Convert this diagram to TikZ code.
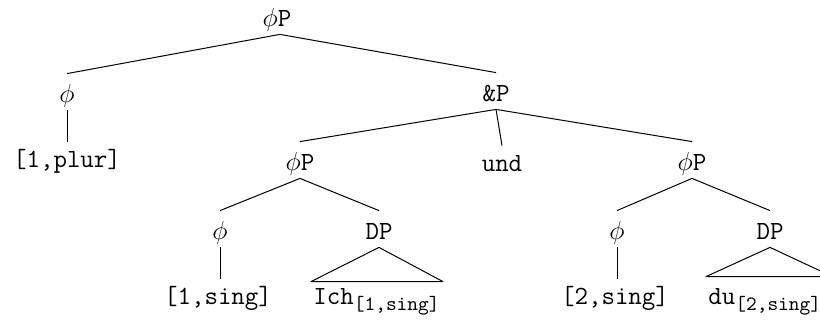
\documentclass[tikz,border=0pt]{standalone}
\usepackage{graphicx}
\usepackage{fontspec}
\newcommand{\ph}{\resizebox*{!}{11.6pt}{$\phi$}}
\newcommand{\subtt}[1]{\mbox{\fontsize{10.2}{11}\selectfont\ttfamily #1}}
\begin{document}
\begin{tikzpicture}[x=0.5pt,y=-0.5pt,
  lbl/.style={anchor=base, inner sep=0pt, text height=14.5pt, text depth=3.5pt,
    font=\fontsize{13.1}{15}\selectfont\ttfamily},
  leaf/.style={lbl, text height=13pt},
  roofleaf/.style={lbl, anchor=base west, inner xsep=1pt, text height=11.5pt},
  edge/.style={line width=0.5pt, line join=round}]
\useasboundingbox (0,0) rectangle (820,320);
\clip (0,0) rectangle (820,320);
% nodes
\node[lbl] (top)   at (277,27)  {\ph P};
\node[lbl] (phi1)  at (67,103)  {\ph};
\node[lbl] (andP)  at (496,102) {\&P};
\node[leaf] (plur) at (67,168)  {[1,plur]};
\node[lbl] (phiP2) at (300,171) {\ph P};
\node[leaf] (und)  at (502,172) {und};
\node[lbl] (phiP3) at (692,171) {\ph P};
\node[lbl] (phi2)  at (220,240) {\ph};
\node[lbl] (DP1)   at (379,240) {DP};
\node[lbl] (phi3)  at (617,240) {\ph};
\node[lbl] (DP2)   at (770,240) {DP};
\node[leaf] (sing1) at (218,305) {[1,sing]};
\node[leaf] (sing2) at (615,305) {[2,sing]};
\node[roofleaf] (ich) at (311,305) {Ich$_{\subtt{[1,sing]}}$};
\node[roofleaf, text height=14pt] (du) at (706,305) {du$_{\subtt{[2,sing]}}$};
% edges
\draw[edge] (phi1.north) -- ([xshift=1.5pt]top.south) -- (andP.north);
\draw[edge] (phi1.south) -- (phi1.south |- plur.north);
\draw[edge] (phiP2.north) -- (andP.south) -- (phiP3.north);
\draw[edge] (andP.south) -- (und.north);
\draw[edge] (phi2.north) -- (phiP2.south) -- (DP1.north);
\draw[edge] (phi2.south) -- (phi2.south |- sing1.north);
\draw[edge] (ich.north west) -- (DP1.south) -- (ich.north east) -- cycle;
\draw[edge] (phi3.north) -- (phiP3.south) -- (DP2.north);
\draw[edge] (phi3.south) -- (phi3.south |- sing2.north);
\draw[edge] (du.north west) -- (DP2.south) -- ([xshift=4pt]du.north east) -- cycle;
\end{tikzpicture}
\end{document}
